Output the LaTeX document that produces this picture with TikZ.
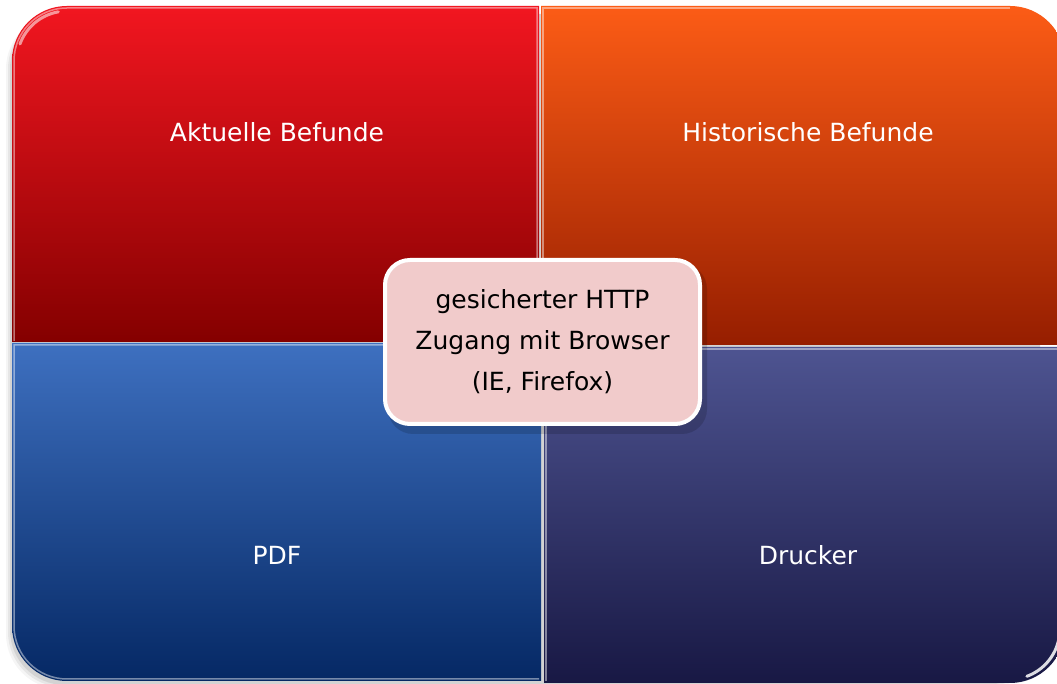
\documentclass[tikz,border=0pt]{standalone}
\usepackage{fontspec}
\setmainfont{DejaVu Sans}
\definecolor{redtop}{RGB}{242,22,32}
\definecolor{redbot}{RGB}{132,0,0}
\definecolor{ortop}{RGB}{252,92,22}
\definecolor{orbot}{RGB}{150,30,0}
\definecolor{bltop}{RGB}{62,112,192}
\definecolor{blbot}{RGB}{5,40,100}
\definecolor{nvtop}{RGB}{78,84,145}
\definecolor{nvbot}{RGB}{24,24,68}
\definecolor{pinkfill}{RGB}{241,203,203}
\tikzset{
  quadlabel/.style={text=white, font=\fontsize{25}{30}\selectfont, anchor=center},
  quadedge/.style={draw=white, draw opacity=0.45, line width=1.5pt},
  gloss/.style={draw=white, line width=3pt, line cap=round},
  centerbox/.style={draw=white, line width=4pt, fill=pinkfill, rounded corners=25pt,
    minimum width=315pt, minimum height=164pt, align=center,
    font=\fontsize{25}{41}\selectfont, text=black},
}
\begin{document}
\begin{tikzpicture}[x=1pt,y=1pt]
\useasboundingbox (0,0) rectangle (1057,684);
\clip (0,0) rectangle (1057,684);
\fill[white] (0,0) rectangle (1057,684);
% soft shadow (left and bottom)
\foreach \o/\a in {6/0.04,4/0.06,2/0.08}{
  \fill[black, opacity=\a, rounded corners=55pt] (12-\o,1-\o) rectangle (1040,670);
}
% red
\shade[top color=redtop, bottom color=redbot]
  (12,342) -- (12,623) arc[start angle=180,end angle=90,radius=55] -- (539,678) -- (539,342) -- cycle;
\draw[quadedge] (14,343) -- (14,623) arc[start angle=180,end angle=90,radius=53] -- (537,676) -- (537,343);
\draw[gloss, opacity=0.55] (20,640) arc[start angle=160,end angle=100,radius=50];
% orange
\shade[top color=ortop, bottom color=orbot]
  (541,678) -- (1010,678) arc[start angle=90,end angle=0,radius=55] -- (1065,339) -- (541,339) -- cycle;
\draw[quadedge] (543,339) -- (543,676) -- (1010,676);
% blue
\shade[top color=bltop, bottom color=blbot]
  (12,341) -- (541,341) -- (541,3) -- (67,3) arc[start angle=270,end angle=180,radius=55] -- cycle;
\draw[quadedge] (539,5) -- (67,5) arc[start angle=270,end angle=180,radius=53] -- (14,339) -- (539,339);
% navy
\shade[top color=nvtop, bottom color=nvbot]
  (544,337) -- (1065,337) -- (1065,56) arc[start angle=0,end angle=-90,radius=55] -- (544,1) -- cycle;
\draw[quadedge] (546,3) -- (546,335) -- (1065,335);
\draw[gloss, opacity=0.85] (1059,46) arc[start angle=-10,end angle=-70,radius=50];
% labels
\node[quadlabel] (akt) at (277,552) {Aktuelle Befunde};
\node[quadlabel] (hist) at (808,552) {Historische Befunde};
\node[quadlabel] (pdf) at (277,129) {PDF};
\node[quadlabel] (druck) at (808,129) {Drucker};
% center shadow
\fill[black, opacity=0.15, rounded corners=25pt] (388,250) rectangle (707,420);
\node[centerbox] (center) at (542.5,342) {gesicherter HTTP\\Zugang mit Browser\\(IE, Firefox)};
\end{tikzpicture}
\end{document}
